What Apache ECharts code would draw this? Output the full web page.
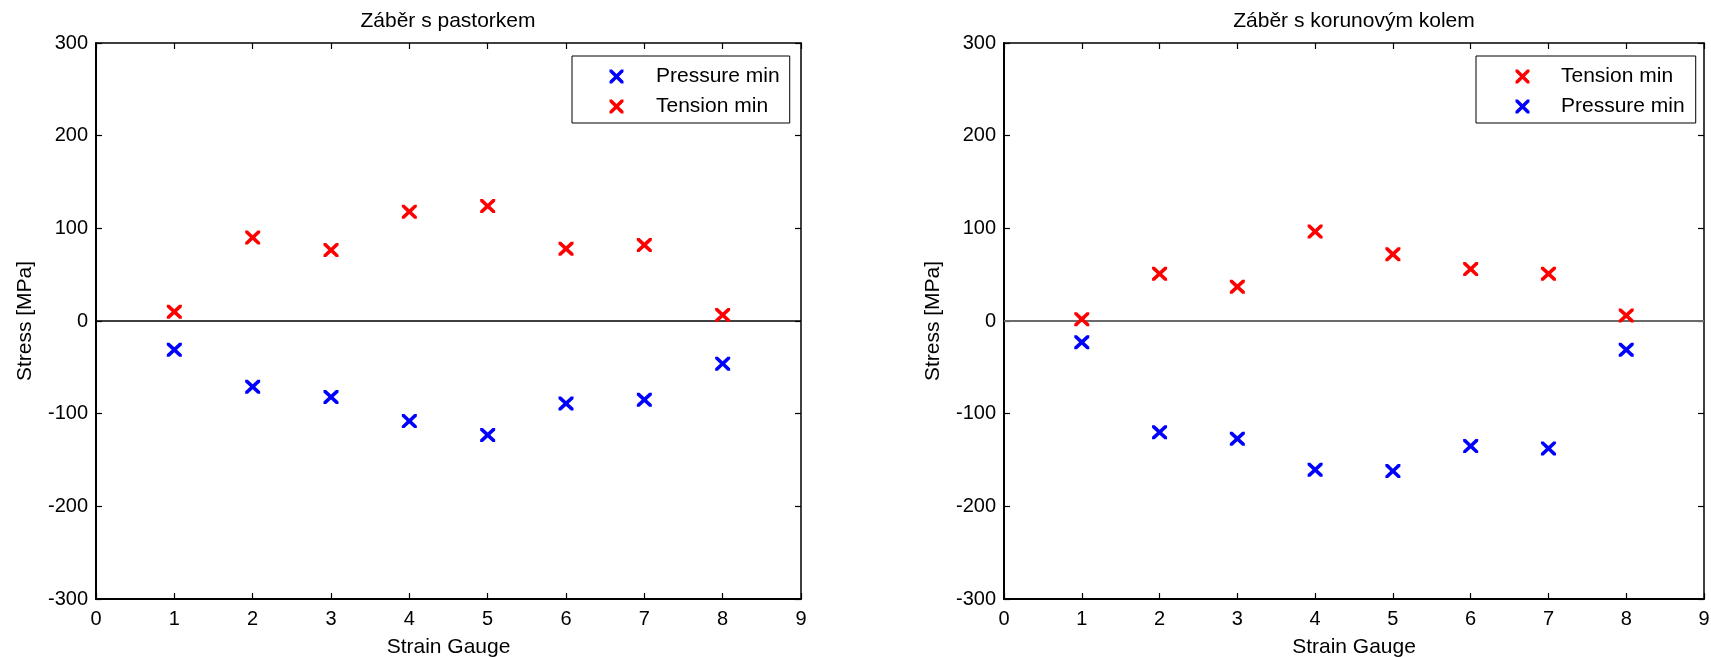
<!DOCTYPE html>
<html>
<head>
<meta charset="utf-8">
<script src="https://cdn.jsdelivr.net/npm/echarts@6/dist/echarts.min.js"></script>
<style>
html,body{margin:0;padding:0;background:#fff;}
#chart{width:1711px;height:657px;}
</style>
</head>
<body>
<div id="chart"></div>
<script>
// ---- data ----
const gauges = [1, 2, 3, 4, 5, 6, 7, 8];
const leftPressure = [-31, -71, -82, -108, -123, -89, -85, -46];
const leftTension = [10, 90, 76.5, 118, 124, 78, 82, 6.5];
const rightTension = [2, 51, 37, 96.5, 72, 56, 51, 6];
const rightPressure = [-23, -120, -127, -160.5, -162, -135, -137.5, -31];
const titles = ['Záběr s pastorkem', 'Záběr s korunovým kolem'];
const xName = 'Strain Gauge';
const yName = 'Stress [MPa]';
const seriesNames = { pressure: 'Pressure min', tension: 'Tension min' };

const FONT = '"Liberation Sans", Arial, Helvetica, sans-serif';
const RED = '#ff0000', BLUE = '#0000ff';
// filled "x" glyph
const XSYM = 'path://M0,0L2.1,0L6,3.9L9.9,0L12,0L12,2.1L8.1,6L12,9.9L12,12L9.9,12L6,8.1L2.1,12L0,12L0,9.9L3.9,6L0,2.1Z';

const toPts = arr => gauges.map((g, i) => [g, arr[i]]);

const grids = [
  { left: 96, right: 910, top: 43, bottom: 58 },
  { left: 1004, right: 7, top: 43, bottom: 58 }
];

function xAxes(gi) {
  return [
    {
      gridIndex: gi, type: 'value', min: 0, max: 9, interval: 1, position: 'bottom',
      name: xName, nameLocation: 'middle', nameGap: 38,
      nameTextStyle: { fontFamily: FONT, fontSize: 21, color: '#000' },
      axisLine: { show: true, onZero: false, lineStyle: { color: '#000', width: 2 } },
      axisTick: { show: true, inside: true, length: 6, lineStyle: { color: '#000', width: 1.2 } },
      axisLabel: { fontFamily: FONT, fontSize: 20, color: '#000', margin: 10 },
      splitLine: { show: false }
    },
    {
      gridIndex: gi, type: 'value', min: 0, max: 9, interval: 1, position: 'top',
      axisLine: { show: true, onZero: false, lineStyle: { color: '#000', width: 1.5 } },
      axisTick: { show: true, inside: true, length: 6, lineStyle: { color: '#000', width: 1.2 } },
      axisLabel: { show: false },
      splitLine: { show: false }
    }
  ];
}
function yAxes(gi) {
  return [
    {
      gridIndex: gi, type: 'value', min: -300, max: 300, interval: 100, position: 'left',
      name: yName, nameLocation: 'middle', nameGap: 60, nameRotate: 90,
      nameTextStyle: { fontFamily: FONT, fontSize: 21, color: '#000' },
      axisLine: { show: true, onZero: false, lineStyle: { color: '#000', width: 2 } },
      axisTick: { show: true, inside: true, length: 6, lineStyle: { color: '#000', width: 1.2 } },
      axisLabel: { fontFamily: FONT, fontSize: 20, color: '#000', margin: 8 },
      splitLine: { show: false }
    },
    {
      gridIndex: gi, type: 'value', min: -300, max: 300, interval: 100, position: 'right',
      axisLine: { show: true, onZero: false, lineStyle: { color: '#000', width: 1.5 } },
      axisTick: { show: true, inside: true, length: 6, lineStyle: { color: '#000', width: 1.2 } },
      axisLabel: { show: false },
      splitLine: { show: false }
    }
  ];
}

function scatter(name, data, color, xi, yi, zeroColor, zeroWidth) {
  const s = {
    name, type: 'scatter', xAxisIndex: xi, yAxisIndex: yi,
    data: toPts(data), symbol: XSYM, symbolSize: [15, 14],
    itemStyle: { color: color, opacity: 1 }, z: 5
  };
  if (zeroColor) {
    s.markLine = {
      silent: true, symbol: ['none', 'none'], label: { show: false },
      lineStyle: { color: zeroColor, width: zeroWidth, type: 'solid', opacity: 1 },
      emphasis: { disabled: true },
      data: [{ yAxis: 0 }], z: 1
    };
  }
  return s;
}

function legend(left, names, padLeft, textPad, padRight) {
  return {
    orient: 'vertical', left: left, top: 56,
    data: names,
    icon: XSYM, itemWidth: 15, itemHeight: 14, itemGap: 9,
    padding: [10, padRight, 6, padLeft],
    borderColor: '#000', borderWidth: 1, backgroundColor: '#fff',
    itemStyle: { opacity: 1 },
    textStyle: { fontFamily: FONT, fontSize: 21, color: '#000', lineHeight: 21, padding: [0, 0, 0, textPad] },
    selectedMode: false
  };
}

const option = {
  animation: false,
  backgroundColor: '#fff',
  title: [
    { text: titles[0], left: 448, top: 11, textAlign: 'center', padding: 0,
      textStyle: { fontFamily: FONT, fontSize: 21, fontWeight: 'normal', color: '#000' } },
    { text: titles[1], left: 1354, top: 11, textAlign: 'center', padding: 0,
      textStyle: { fontFamily: FONT, fontSize: 21, fontWeight: 'normal', color: '#000' } }
  ],
  grid: grids.map(g => Object.assign({ show: false, containLabel: false, outerBoundsMode: 'none' }, g)),
  xAxis: [...xAxes(0), ...xAxes(1)],
  yAxis: [...yAxes(0), ...yAxes(1)],
  legend: [
    legend(572, [seriesNames.pressure, seriesNames.tension], 37.5, 27, 10),
    legend(1476, [seriesNames.tension, seriesNames.pressure], 39.5, 26, 11)
  ],
  series: [
    scatter(seriesNames.pressure, leftPressure, BLUE, 0, 0, '#000', 1.5),
    scatter(seriesNames.tension, leftTension, RED, 0, 0),
    scatter(seriesNames.tension, rightTension, RED, 2, 2, '#6a6a6a', 2),
    scatter(seriesNames.pressure, rightPressure, BLUE, 2, 2)
  ]
};

const chart = echarts.init(document.getElementById('chart'), null, { renderer: 'canvas' });
chart.setOption(option);
</script>
</body>
</html>
